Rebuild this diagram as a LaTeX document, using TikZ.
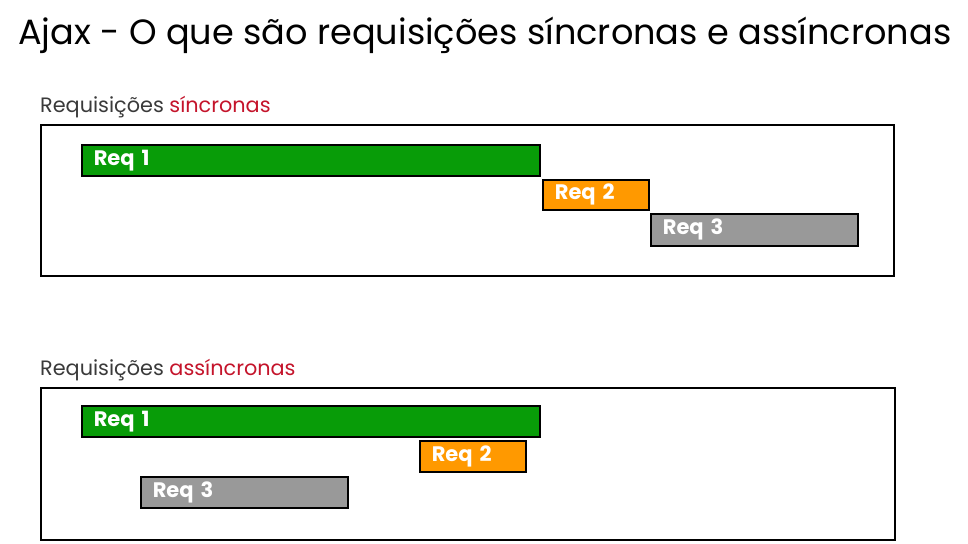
\documentclass[tikz,border=0pt]{standalone}
\usepackage{fontspec}
\setmainfont{Poppins}
\usetikzlibrary{positioning}
\definecolor{reqgreen}{HTML}{089C08}
\definecolor{reqorange}{HTML}{FF9900}
\definecolor{reqgray}{HTML}{999999}
\definecolor{labelred}{HTML}{C4142B}
\definecolor{labelgray}{HTML}{3A3A3A}

\begin{document}
\begin{tikzpicture}[x=1pt, y=-1pt,
    frame/.style={draw, line width=1.6pt, anchor=north west, inner sep=0pt},
    bar/.style={draw, line width=1.6pt, anchor=north west, inner xsep=12pt,
                inner ysep=0pt, align=left, text=white,
                font=\fontsize{21}{21}\selectfont\bfseries},
    green/.style={bar, fill=reqgreen},
    orange/.style={bar, fill=reqorange},
    gray/.style={bar, fill=reqgray},
    label/.style={anchor=base west, inner sep=0pt, text=labelgray,
                  font=\fontsize{20.8}{21}\selectfont}]
    \useasboundingbox (0,0) rectangle (968,543);

    \node[anchor=base west, inner sep=0pt, font=\fontsize{35.1}{36}\selectfont] (title) at (18,45)
        {Ajax - O que são requisições síncronas e assíncronas};

    % sincronas
    \node[label] (synclabel) at (40,112) {Requisições \textcolor{labelred}{síncronas}};
    \node[frame, minimum width=853pt, minimum height=151pt] (syncbox) at (40,124) {};
    \node[green, text width=434pt, minimum height=31pt] (sreq1) at (81,144) {Req 1};
    \node[orange, text width=82pt, minimum height=30pt] (sreq2) at (542,179) {Req 2};
    \node[gray, text width=183pt, minimum height=32pt] (sreq3) at (650,213) {Req 3};

    % assincronas
    \node[label] (asynclabel) at (40,375) {Requisições \textcolor{labelred}{assíncronas}};
    \node[frame, minimum width=854pt, minimum height=152pt] (asyncbox) at (40,387) {};
    \node[green, text width=434pt, minimum height=31pt] (areq1) at (81,405) {Req 1};
    \node[orange, text width=82pt, minimum height=31pt] (areq2) at (419,440) {Req 2};
    \node[gray, text width=183pt, minimum height=31pt] (areq3) at (140,476) {Req 3};
  \end{tikzpicture}
\end{document}
